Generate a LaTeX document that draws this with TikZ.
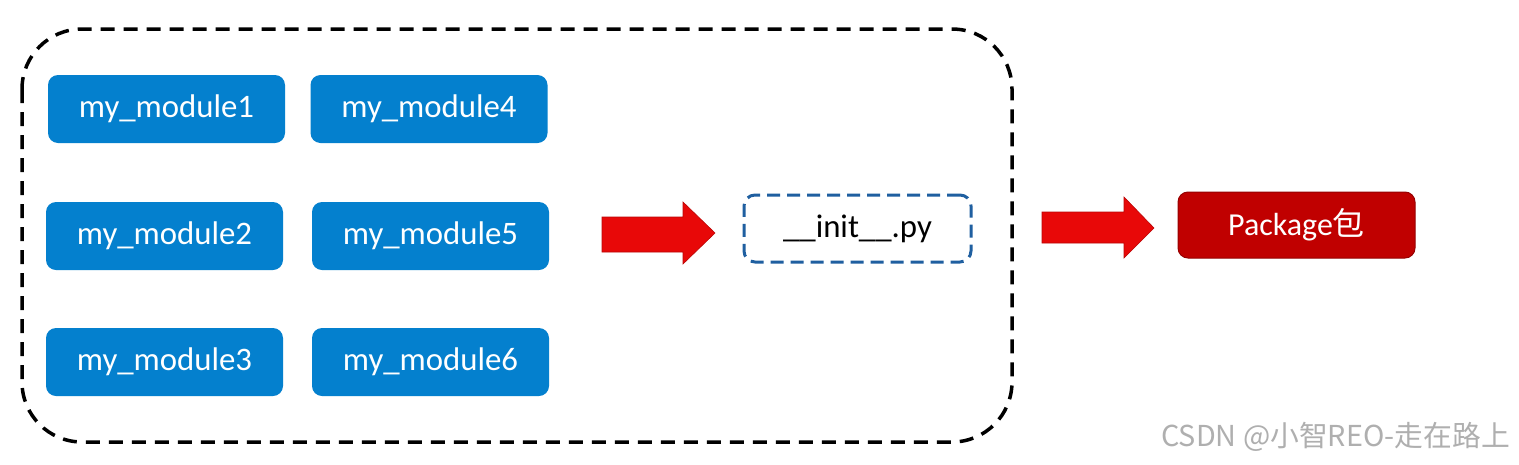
\documentclass[tikz,border=0pt]{standalone}
\usepackage{fontspec}
\setmainfont{Carlito}
\newfontfamily\cjk{Noto Sans CJK SC}
\definecolor{modblue}{RGB}{4,128,206}
\definecolor{initblue}{RGB}{31,95,160}
\definecolor{pkgred}{RGB}{192,0,0}
\definecolor{pkgedge}{RGB}{150,0,0}
\definecolor{arrred}{RGB}{232,8,8}
\definecolor{wmgray}{RGB}{175,175,175}
\begin{document}
\begin{tikzpicture}[x=1pt,y=-1pt,
  modbox/.style={fill=modblue, rounded corners=10pt, minimum width=237pt, minimum height=68pt,
    inner sep=0pt, text=white, font=\fontsize{32.8}{38}\selectfont},
  initbox/.style={draw=initblue, line width=3pt, dash pattern=on 13pt off 7pt, rounded corners=11pt,
    minimum width=227pt, minimum height=67pt, inner sep=0pt, font=\fontsize{32.8}{38}\selectfont},
  pkgbox/.style={fill=pkgred, draw=pkgedge, line width=1pt, rounded corners=10pt,
    minimum width=237pt, minimum height=66pt, inner sep=0pt, text=white, font=\fontsize{32}{38}\selectfont},
  blockarrow/.style={fill=arrred, draw=arrred!80!black, line width=0.6pt}]
\useasboundingbox (0,0) rectangle (1519,464);
\fill[white] (0,0) rectangle (1519,464);
% outer dashed container
\draw[line width=3.5pt, dash pattern=on 14pt off 9pt, rounded corners=60pt]
  (22,29) rectangle (1012,442);
% modules
\node[modbox] (m1) at (166.5,109) {my\_module1};
\node[modbox] (m4) at (429,109) {my\_module4};
\node[modbox] (m2) at (164.5,236) {my\_module2};
\node[modbox] (m5) at (430.5,236) {my\_module5};
\node[modbox] (m3) at (164.5,362) {my\_module3};
\node[modbox] (m6) at (430.5,362) {my\_module6};
% init
\node[initbox] (init) at (857.5,228.5) {\_\_init\_\_.py};
% package
\node[pkgbox] (pkg) at (1296.5,225) {Package{\cjk 包}};
% block arrows
\draw[blockarrow] (602,217) -- (683,217) -- (683,202) -- (715,233) -- (683,264) -- (683,252) -- (602,252) -- cycle;
\draw[blockarrow] (1042,212) -- (1124,212) -- (1124,197) -- (1154,228) -- (1124,258) -- (1124,243) -- (1042,243) -- cycle;
% watermark
\node[anchor=east, text=wmgray, inner sep=0pt, font=\cjk\fontsize{28.8}{34}\selectfont] (wm) at (1510,437) {CSDN @小智REO-走在路上};
\end{tikzpicture}
\end{document}
